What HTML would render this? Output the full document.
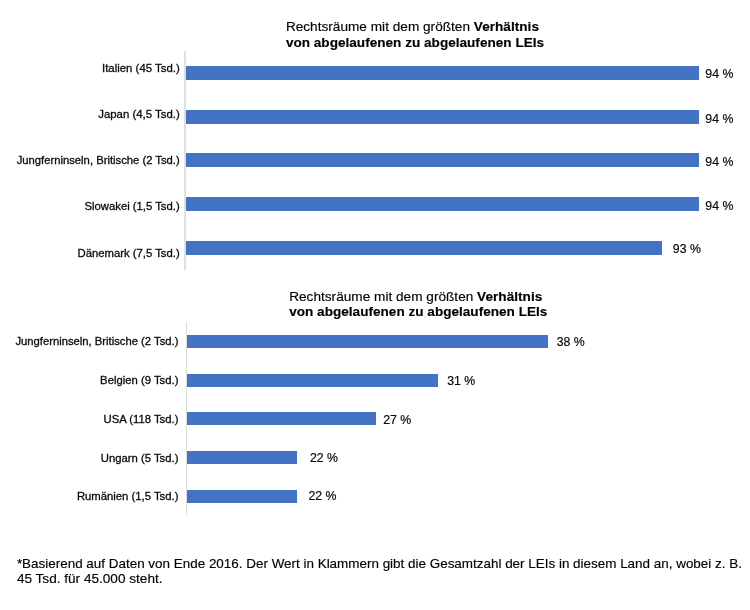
<!DOCTYPE html>
<html lang="de">
<head>
<meta charset="utf-8">
<title>LEI Verhältnis</title>
<style>
html,body{margin:0;padding:0;background:#fff;}
body{width:750px;height:610px;position:relative;overflow:hidden;font-family:"Liberation Sans",Arial,sans-serif;color:#000;}
.abs{position:absolute;white-space:nowrap;}
.title{-webkit-text-stroke:0.15px #000;left:285.9px;text-align:left;font-size:13.6px;line-height:15.6px;letter-spacing:0.02px;}
.title b{font-weight:bold;}
.title .l2{font-size:13.55px;}
.axis{position:absolute;width:1px;background:#d4d4d4;}
.bar{position:absolute;left:185.6px;height:14px;background:#4472c4;}
.c2 .bar{left:187px;height:13.3px;}
.lab{position:absolute;-webkit-text-stroke:0.3px #0a0a0a;right:570.3px;font-size:11.3px;line-height:14px;white-space:nowrap;text-align:right;color:#0a0a0a;}
.c2 .lab{right:571.6px;}
.val{position:absolute;-webkit-text-stroke:0.2px #0a0a0a;margin-left:0.5px;font-size:12.3px;line-height:14px;white-space:nowrap;color:#0a0a0a;}
.foot{position:absolute;-webkit-text-stroke:0.15px #000;left:16.9px;top:556.3px;font-size:13.45px;line-height:15.0px;white-space:nowrap;}
.foot .f2{font-size:13.6px;}
</style>
</head>
<body>
<div class="abs title" style="top:19.1px">Rechtsräume mit dem größten <b>Verhältnis</b><br><b class="l2">von abgelaufenen zu abgelaufenen LEIs</b></div>
<div class="c1">
<div class="axis" style="left:184.4px;width:1.4px;top:51px;height:219px;background:#e0e0e0"></div>

<div class="lab" style="top:60.75px;font-size:11.4px">Italien (45 Tsd.)</div>
<div class="bar" style="top:65.8px;width:513px"></div>
<div class="val" style="left:704.8px;top:66.7px">94 %</div>

<div class="lab" style="top:106.95px;font-size:11.4px">Japan (4,5 Tsd.)</div>
<div class="bar" style="top:109.6px;width:513px"></div>
<div class="val" style="left:704.8px;top:111.5px">94 %</div>

<div class="lab" style="top:153.15px;font-size:11.25px">Jungferninseln, Britische (2 Tsd.)</div>
<div class="bar" style="top:153.3px;width:513px"></div>
<div class="val" style="left:704.8px;top:154.7px">94 %</div>

<div class="lab" style="top:199.35px">Slowakei (1,5 Tsd.)</div>
<div class="bar" style="top:196.95px;width:513px"></div>
<div class="val" style="left:704.8px;top:198.8px">94 %</div>

<div class="lab" style="top:245.55px">Dänemark (7,5 Tsd.)</div>
<div class="bar" style="top:240.6px;width:476.7px"></div>
<div class="val" style="left:672.3px;top:242px">93 %</div>
</div>

<div class="abs title" style="top:288.6px;left:289.2px">Rechtsräume mit dem größten <b>Verhältnis</b><br><b class="l2">von abgelaufenen zu abgelaufenen LEIs</b></div>
<div class="c2">
<div class="axis" style="left:186px;top:322px;height:193px;background:#dcdcdc"></div>

<div class="lab" style="top:333.95px;font-size:11.25px">Jungferninseln, Britische (2 Tsd.)</div>
<div class="bar" style="top:335px;width:361px"></div>
<div class="val" style="left:556.2px;top:334.7px">38 %</div>

<div class="lab" style="top:373.05px">Belgien (9 Tsd.)</div>
<div class="bar" style="top:374px;width:251.1px"></div>
<div class="val" style="left:446.7px;top:373.9px">31 %</div>

<div class="lab" style="top:411.6px">USA (118 Tsd.)</div>
<div class="bar" style="top:412.2px;width:188.5px"></div>
<div class="val" style="left:382.7px;top:412.8px">27 %</div>

<div class="lab" style="top:450.6px">Ungarn (5 Tsd.)</div>
<div class="bar" style="top:451.2px;width:109.8px"></div>
<div class="val" style="left:309.4px;top:450.6px">22 %</div>

<div class="lab" style="top:489.3px">Rumänien (1,5 Tsd.)</div>
<div class="bar" style="top:489.8px;width:109.8px"></div>
<div class="val" style="left:308px;top:489.4px">22 %</div>
</div>

<div class="foot">*Basierend auf Daten von Ende 2016. Der Wert in Klammern gibt die Gesamtzahl der LEIs in diesem Land an, wobei z. B.<br><span class="f2">45 Tsd. für 45.000 steht.</span></div>
</body>
</html>
